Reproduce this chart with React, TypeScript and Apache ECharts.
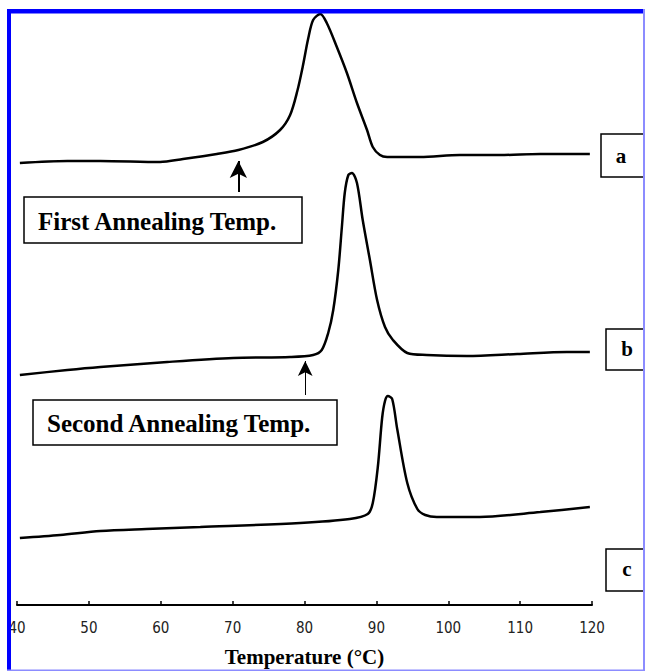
import React, { useEffect, useRef } from "react";
import * as echarts from "echarts";

const xTicks = [40, 50, 60, 70, 80, 90, 100, 110, 120];

const tempA = [40.4, 47.0, 51.6, 59.9, 63.1, 67.8, 70.8, 74.2, 76.6, 78.0, 79.0, 79.8, 80.5, 81.2, 82.2, 83.1, 84.5, 85.9, 87.3, 88.7, 89.5, 90.5, 91.5, 96.1, 101.6, 107.2, 112.8, 119.7];
const sigA = [442, 444, 444, 443, 446, 451, 455, 463, 475, 490, 514, 540, 566, 585, 591, 582, 558, 532, 502, 475, 458, 450, 448, 448, 450, 450, 451, 451];

const tempB = [40.4, 47.0, 51.6, 60.9, 70.1, 78.0, 81.2, 82.4, 83.3, 84.0, 84.7, 85.2, 85.6, 86.1, 86.6, 87.3, 88.1, 89.1, 90.1, 91.2, 92.3, 94.3, 97.0, 102.6, 109.6, 116.5, 119.7];
const sigB = [230, 235, 238, 243, 247, 248, 250, 255, 272, 295, 335, 378, 412, 430, 432, 422, 385, 345, 305, 278, 265, 252, 250, 249, 251, 253, 253];

const tempC = [40.4, 46.0, 51.6, 58.0, 65.5, 79.4, 86.3, 88.8, 89.5, 90.2, 90.8, 91.2, 91.6, 92.2, 92.9, 94.3, 95.7, 96.8, 98.4, 104.4, 112.8, 119.7];
const sigC = [67, 70, 74, 76, 78, 82, 86, 91, 102, 138, 187, 204, 209, 206, 176, 122, 96, 90, 88, 88, 93, 98];

const firstAnnealTemp = 70.8;
const secondAnnealTemp = 80.1;

const zip = (xs: number[], ys: number[]) => xs.map((x, i) => [x, ys[i]]);

export default function App() {
  const ref = useRef<HTMLDivElement>(null);
  useEffect(() => {
    if (!ref.current) return;
    const chart = echarts.init(ref.current, null, { renderer: "svg" });
    const serif = "Liberation Serif";
    const curve = (name: string, data: number[][], extra: any = {}) => ({
      name,
      type: "line",
      data,
      showSymbol: false,
      smooth: 0.3,
      lineStyle: { color: "#000", width: 2.5 },
      z: 3,
      ...extra,
    });
    chart.setOption({
      animation: false,
      backgroundColor: "#fff",
      grid: { left: 17, right: 53, top: 13, bottom: 66, containLabel: false, outerBoundsMode: "none" },
      xAxis: {
        type: "value",
        min: 40,
        max: 120,
        interval: 10,
        axisLine: { lineStyle: { color: "#000", width: 2 } },
        axisTick: { inside: true, length: 4, lineStyle: { color: "#000", width: 1.5 } },
        axisLabel: {
          color: "#222",
          fontFamily: "Liberation Sans Narrow, DejaVu Sans Condensed, Liberation Sans",
          fontSize: 15,
          margin: 15,
          formatter: (v: number) => (xTicks.includes(v) ? String(v) : ""),
        },
        splitLine: { show: false },
        name: "Temperature (°C)",
        nameLocation: "middle",
        nameGap: 41,
        nameTextStyle: { color: "#000", fontFamily: serif, fontWeight: "bold", fontSize: 21 },
      },
      yAxis: { type: "value", min: 0, max: 592, show: false },
      series: [
        curve("a", zip(tempA, sigA), {
          markLine: {
            silent: true,
            symbol: ["none", "arrow"],
            symbolSize: [13, 17],
            label: { show: false },
            lineStyle: { color: "#000", width: 2, type: "solid" },
            data: [[{ coord: [firstAnnealTemp, 413] }, { coord: [firstAnnealTemp, 444] }]],
          },
        }),
        curve("b", zip(tempB, sigB), {
          markLine: {
            silent: true,
            symbol: ["none", "arrow"],
            symbolSize: [11, 15],
            label: { show: false },
            lineStyle: { color: "#000", width: 1, type: "solid" },
            data: [[{ coord: [secondAnnealTemp, 210] }, { coord: [secondAnnealTemp, 244] }]],
          },
        }),
        curve("c", zip(tempC, sigC)),
      ],
      graphic: [
        { type: "rect", shape: { x: 24, y: 197, width: 278, height: 46 }, style: { fill: "#fff", stroke: "#000", lineWidth: 1.5 }, z: 10 },
        { type: "text", x: 38, y: 221, style: { text: "First Annealing Temp.", font: `bold 25px ${serif}`, fill: "#000", textVerticalAlign: "middle" }, z: 11 },
        { type: "rect", shape: { x: 33, y: 400, width: 304, height: 45 }, style: { fill: "#fff", stroke: "#000", lineWidth: 1.5 }, z: 10 },
        { type: "text", x: 47, y: 423, style: { text: "Second Annealing Temp.", font: `bold 25px ${serif}`, fill: "#000", textVerticalAlign: "middle" }, z: 11 },
        { type: "rect", shape: { x: 601, y: 134, width: 50, height: 43 }, style: { fill: "#fff", stroke: "#000", lineWidth: 1.5 }, z: 10 },
        { type: "text", x: 621, y: 156, style: { text: "a", font: `bold 21px ${serif}`, fill: "#000", textAlign: "center", textVerticalAlign: "middle" }, z: 11 },
        { type: "rect", shape: { x: 606, y: 329, width: 50, height: 41 }, style: { fill: "#fff", stroke: "#000", lineWidth: 1.5 }, z: 10 },
        { type: "text", x: 627, y: 349, style: { text: "b", font: `bold 21px ${serif}`, fill: "#000", textAlign: "center", textVerticalAlign: "middle" }, z: 11 },
        { type: "rect", shape: { x: 606, y: 549, width: 50, height: 42 }, style: { fill: "#fff", stroke: "#000", lineWidth: 1.5 }, z: 10 },
        { type: "text", x: 627, y: 569, style: { text: "c", font: `bold 21px ${serif}`, fill: "#000", textAlign: "center", textVerticalAlign: "middle" }, z: 11 },
        { type: "rect", shape: { x: 7, y: 9, width: 4, height: 662 }, style: { fill: "#0000ff" }, z: 20 },
        { type: "rect", shape: { x: 7, y: 9, width: 638, height: 4.5 }, style: { fill: "#0000ff" }, z: 20 },
        { type: "rect", shape: { x: 643, y: 9, width: 2, height: 662 }, style: { fill: "#8c8cff" }, z: 20 },
        { type: "rect", shape: { x: 7, y: 669.5, width: 638, height: 1.5 }, style: { fill: "#8c8cff" }, z: 20 },
      ],
    });
    return () => chart.dispose();
  }, []);
  return <div ref={ref} style={{ position: "fixed", left: 0, top: 0, width: 645, height: 671 }} />;
}
